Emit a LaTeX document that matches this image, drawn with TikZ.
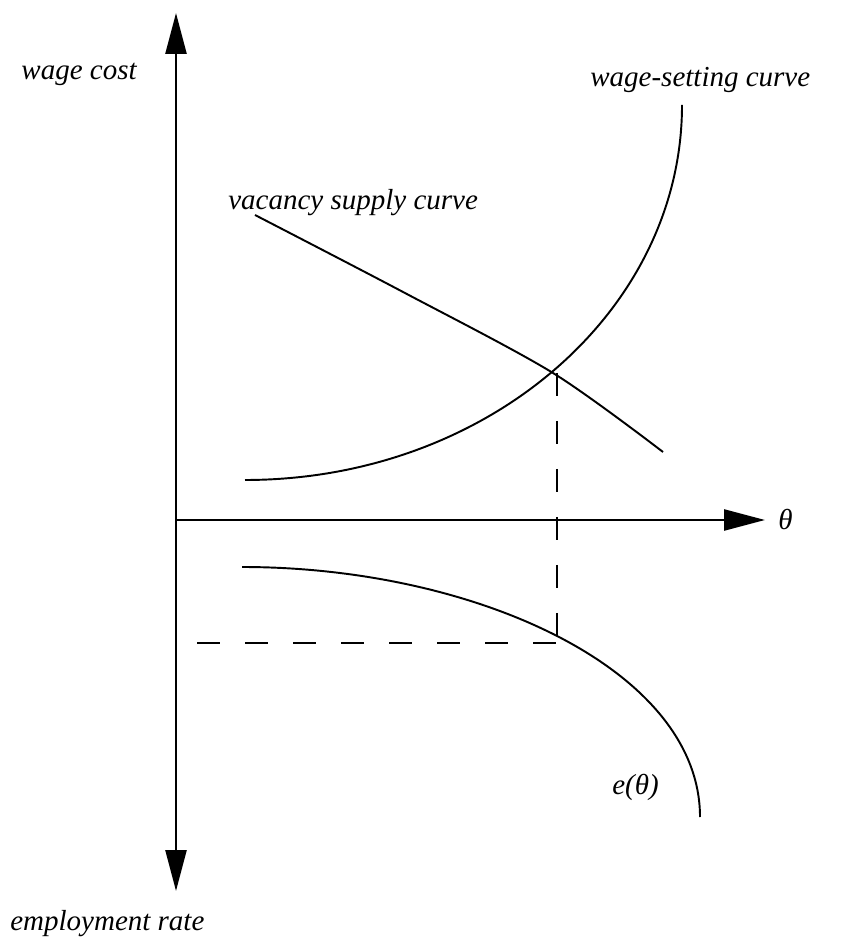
\documentclass[tikz,border=0pt]{standalone}
\usepackage{fontspec}
\setmainfont{Liberation Serif}
\usetikzlibrary{arrows.meta}

\begin{document}
\begin{tikzpicture}[x=1cm, y=1cm,
    axis/.style={line width=1.4pt, -{Triangle[length=0.82cm, width=0.42cm]}},
    curve/.style={line width=1.1pt},
    guide/.style={line width=1.1pt, dash pattern=on 0.467cm off 0.493cm},
    lab/.style={inner sep=0pt, font=\fontsize{16.5}{19}\selectfont\itshape}]
  \useasboundingbox (-3.52,-8.4) rectangle (13.42,10.4);
  % axes
  \coordinate (O) at (0,0);
  \coordinate (ytop) at (0,10.14);
  \coordinate (ybot) at (0,-7.42);
  \coordinate (xend) at (11.78,0);
  \draw[axis] (O) -- (ytop);
  \draw[axis] (O) -- (ybot);
  \draw[axis] (O) -- (xend);
  \node[lab, anchor=west] (thetalab) at (12.04,0) {θ};
  \node[lab, anchor=base east] (wagecost) at (-0.78,8.8) {wage cost};
  \node[lab, anchor=base west] (emprate) at (-3.32,-8.2) {employment rate};
  % vacancy supply curve
  \draw[curve] plot[smooth] coordinates {(1.58,6.10) (4.56,4.55) (7.54,2.94) (9.74,1.36)};
  \node[lab, anchor=base west] (vacancy) at (1.04,6.2) {vacancy supply curve};
  % wage-setting curve
  \draw[curve] (1.38,0.80) arc[start angle=-90, end angle=0, x radius=8.74, y radius=7.5];
  \node[lab, anchor=base west] (wageset) at (8.28,8.66) {wage-setting curve};
  % employment rate e(theta)
  \draw[curve] (1.32,-0.94) .. controls (6,-0.94) and (10.48,-3) .. (10.48,-5.94);
  \node[lab, anchor=base west] (etheta) at (8.72,-5.48) {e(θ)};
  % equilibrium read-off
  \coordinate (eq) at (7.62,2.94);
  \coordinate (eqdown) at (7.62,-2.32);
  \coordinate (erate) at (7.62,-2.46);
  \coordinate (eaxis) at (0.42,-2.46);
  \draw[guide] (eq) -- (eqdown);
  \draw[guide] (eaxis) -- (erate);
\end{tikzpicture}
\end{document}
